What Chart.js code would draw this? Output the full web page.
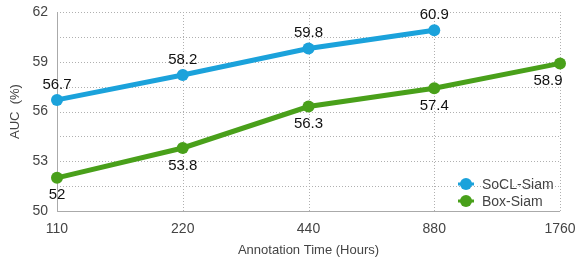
<!DOCTYPE html>
<html>
<head>
<meta charset="utf-8">
<script src="https://cdn.jsdelivr.net/npm/chart.js@4/dist/chart.umd.min.js"></script>
<style>
  html, body { margin: 0; padding: 0; background: #fff; }
  #wrap { width: 581px; height: 262px; }
</style>
</head>
<body>
<div id="wrap"><canvas id="chart" width="581" height="262"></canvas></div>
<script>
const hours = ['110', '220', '440', '880', '1760'];
const soclSiam = [56.7, 58.2, 59.8, 60.9, null];
const boxSiam = [52, 53.8, 56.3, 57.4, 58.9];
const yTicks = [50, 53, 56, 59, 62];

const blue = '#1ba2db';
const green = '#49a01a';
const font = 'Liberation Sans, Arial, sans-serif';

// value labels: blue above, green below
const valueLabels = {
  id: 'valueLabels',
  afterDatasetsDraw(chart) {
    const ctx = chart.ctx;
    ctx.save();
    ctx.font = '15px ' + font;
    ctx.fillStyle = '#111';
    ctx.textAlign = 'center';
    chart.data.datasets.forEach((ds, i) => {
      const meta = chart.getDatasetMeta(i);
      meta.data.forEach((pt, j) => {
        const v = ds.data[j];
        if (v == null) return;
        if (i === 0) {
          ctx.textBaseline = 'bottom';
          ctx.fillText(String(v), pt.x, pt.y - 8);
        } else {
          ctx.textBaseline = 'top';
          let x = pt.x;
          if (j === ds.data.length - 1) x -= 12;
          ctx.fillText(String(v), x, pt.y + 10);
        }
      });
    });
    ctx.restore();
  }
};

// dotted grid plus solid left/bottom axis lines
const gridLines = {
  id: 'gridLines',
  beforeDatasetsDraw(chart) {
    const ctx = chart.ctx;
    const a = chart.chartArea;
    const xs = chart.scales.x;
    const ys = chart.scales.y;
    ctx.save();
    ctx.strokeStyle = '#b0b0b0';
    ctx.lineWidth = 1;
    ctx.setLineDash([1, 2]);
    ctx.beginPath();
    xs.ticks.forEach((t, i) => {
      const x = Math.round(xs.getPixelForTick(i)) + 0.5;
      ctx.moveTo(x, a.top);
      ctx.lineTo(x, a.bottom);
    });
    ys.ticks.forEach((t) => {
      const y = Math.round(ys.getPixelForValue(t.value)) + 0.5;
      ctx.moveTo(a.left, y);
      ctx.lineTo(a.right, y);
    });
    ctx.stroke();
    ctx.setLineDash([]);
    ctx.strokeStyle = '#aaa';
    ctx.beginPath();
    const l = Math.round(a.left) + 0.5;
    const b = Math.round(a.bottom) + 0.5;
    ctx.moveTo(l, a.top);
    ctx.lineTo(l, b);
    ctx.lineTo(a.right, b);
    ctx.stroke();
    ctx.restore();
  }
};

// legend inside the plot, bottom right
const insideLegend = {
  id: 'insideLegend',
  afterDraw(chart) {
    const ctx = chart.ctx;
    const area = chart.chartArea;
    ctx.save();
    ctx.font = '14px ' + font;
    ctx.textBaseline = 'middle';
    ctx.textAlign = 'left';
    chart.data.datasets.forEach((ds, i) => {
      const y = area.bottom - 27 + i * 17;
      const x = area.right - 94;
      ctx.fillStyle = ds.borderColor;
      ctx.beginPath();
      ctx.arc(x, y, 6, 0, Math.PI * 2);
      ctx.fill();
      ctx.fillRect(x - 8, y - 1.5, 16, 3);
      ctx.fillStyle = '#444';
      ctx.fillText(ds.label, x + 16, y + 1);
    });
    ctx.restore();
  }
};

new Chart(document.getElementById('chart'), {
  type: 'line',
  data: {
    labels: hours,
    datasets: [
      {
        label: 'SoCL-Siam',
        data: soclSiam,
        borderColor: blue,
        backgroundColor: blue,
        borderWidth: 5,
        pointRadius: 6,
        pointBackgroundColor: blue,
        pointBorderWidth: 0,
        spanGaps: false,
      },
      {
        label: 'Box-Siam',
        data: boxSiam,
        borderColor: green,
        backgroundColor: green,
        borderWidth: 5,
        pointRadius: 6,
        pointBackgroundColor: green,
        pointBorderWidth: 0,
      },
    ],
  },
  options: {
    responsive: false,
    animation: false,
    layout: { padding: { top: 12, right: 21, left: 0, bottom: 0 } },
    plugins: {
      legend: { display: false },
      tooltip: { enabled: false },
    },
    scales: {
      x: {
        offset: false,
        grid: { display: false, drawTicks: false },
        border: { display: false },
        ticks: { color: '#444', font: { size: 14, family: font }, padding: 10, maxRotation: 0 },
        title: {
          display: true,
          text: 'Annotation Time (Hours)',
          color: '#444',
          font: { size: 13, family: font },
          padding: { top: 6 },
        },
        afterFit(scale) {
          scale.height = 51;
          scale.paddingRight = 0;
          scale.paddingLeft = 0;
        },
      },
      y: {
        min: 50,
        max: 62,
        afterBuildTicks(scale) {
          const t = [];
          for (let k = 0; k <= 8; k++) t.push({ value: 50 + k * 1.5 });
          scale.ticks = t;
        },
        grid: { display: false, drawTicks: false },
        border: { display: false },
        ticks: {
          color: '#444',
          font: { size: 14, family: font },
          padding: 9,
          callback: (v) => (yTicks.includes(v) ? String(v) : ''),
        },
        title: {
          display: true,
          text: 'AUC  (%)',
          color: '#444',
          font: { size: 13, family: font },
          padding: { top: 8, bottom: 2 },
        },
        afterFit(scale) {
          scale.width = 57;
          scale.paddingTop = 0;
          scale.paddingBottom = 0;
        },
      },
    },
  },
  plugins: [gridLines, valueLabels, insideLegend],
});
</script>
</body>
</html>
